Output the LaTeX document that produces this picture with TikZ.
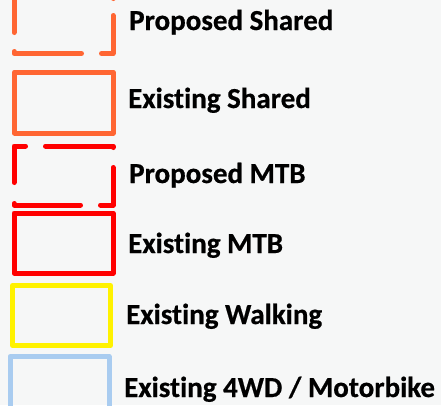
\documentclass[tikz,border=0pt]{standalone}
\usepackage{fontspec}
\setmainfont{Carlito}[Ligatures=NoCommon, BoldFeatures={FakeBold=0.6}]
\definecolor{bg}{HTML}{F6F7F7}
\definecolor{orangeline}{HTML}{FF6633}
\definecolor{redline}{HTML}{FF0000}
\definecolor{yellowline}{HTML}{FFF200}
\definecolor{blueline}{HTML}{A9CCF0}
\begin{document}
\begin{tikzpicture}[x=1pt,y=-1pt,
  legbox/.style={line width=5pt, line join=round, line cap=round},
  lbl/.style={anchor=base west, inner sep=0pt, font=\bfseries\fontsize{29}{31}\selectfont}]
\useasboundingbox[fill=bg] (0,0) rectangle (441,405);
% Proposed Shared (dashed orange)
\begin{scope}[legbox, draw=orangeline]
\draw (45.5,-5.5) -- (113,-5.5) -- (113,-1.5);
\draw (113,15.5) -- (113,53.5) -- (101.5,53.5);
\draw (81.5,53.5) -- (14,53.5) -- (14,51.5);
\draw (14,32.5) -- (14,-5.5) -- (25.5,-5.5);
\end{scope}
\node[lbl] (l1) at (129,30) {Proposed Shared};
% Existing Shared
\draw[legbox, draw=orangeline] (14.5,72) rectangle (113,133);
\node[lbl] (l2) at (128,108) {Existing Shared};
% Proposed MTB (dashed red)
\begin{scope}[legbox, draw=redline]
\draw (45.5,146) -- (113,146) -- (113,147.5);
\draw (113,167.5) -- (113,205) -- (100.5,205);
\draw (80.5,205) -- (14,205) -- (14,203.5);
\draw (14,182.5) -- (14,146) -- (25.5,146);
\end{scope}
\node[lbl] (l3) at (129,183) {Proposed MTB};
% Existing MTB
\draw[legbox, draw=redline] (14,213) rectangle (113,273);
\node[lbl] (l4) at (128,253) {Existing MTB};
% Existing Walking
\draw[legbox, draw=yellowline] (12.5,285.5) rectangle (110.5,345.5);
\node[lbl] (l5) at (126,324) {Existing Walking};
% Existing 4WD / Motorbike
\draw[legbox, draw=blueline] (10,356.5) rectangle (109,420);
\node[lbl] (l6) at (124,397) {Existing 4WD / Motorbike};
\end{tikzpicture}
\end{document}
